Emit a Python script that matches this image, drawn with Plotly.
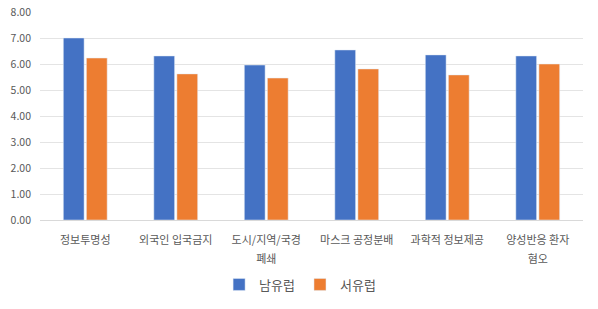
import plotly.graph_objects as go

categories = ["정보투명성", "외국인 입국금지", "도시/지역/국경\n폐쇄", "마스크 공정분배", "과학적 정보제공", "양성반응 환자\n혐오"]
south_eu = [7.00, 6.31, 5.96, 6.54, 6.35, 6.31]
west_eu = [6.23, 5.62, 5.46, 5.81, 5.58, 6.00]
y_ticks = [0, 1, 2, 3, 4, 5, 6, 7, 8]

line1 = [c.split("\n")[0] for c in categories]
line2 = [c.split("\n")[1] if "\n" in c else "" for c in categories]

font_family = "Noto Sans CJK KR, Noto Sans, sans-serif"

fig = go.Figure()
fig.add_trace(go.Bar(name="남유럽", x=categories, y=south_eu, marker_color="#4472C4"))
fig.add_trace(go.Bar(name="서유럽", x=categories, y=west_eu, marker_color="#ED7D31"))
# invisible helper trace so the second tick-label row axis is drawn
fig.add_trace(go.Scatter(x=categories, y=west_eu, xaxis="x2", yaxis="y", mode="markers",
                         marker=dict(opacity=0), showlegend=False, hoverinfo="skip"))

fig.update_layout(
    width=598, height=309,
    margin=dict(l=40, r=15, t=12, b=89, autoexpand=False),
    paper_bgcolor="white", plot_bgcolor="white",
    barmode="group", bargap=0.49, bargroupgap=0.1,
    font=dict(family=font_family, color="#595959", size=10),
    legend=dict(orientation="h", x=0.479, xanchor="center", y=-0.31, yanchor="middle",
                font=dict(size=13, color="#595959"), itemwidth=30),
    showlegend=True,
    xaxis=dict(type="category", categoryorder="array", categoryarray=categories,
               tickvals=categories, ticktext=line1,
               showline=True, linecolor="#d9d9d9", linewidth=1, ticks="",
               ticklabelstandoff=10, tickfont=dict(size=11, color="#595959"), tickangle=0),
    xaxis2=dict(type="category", categoryorder="array", categoryarray=categories,
                matches="x", overlaying="x", anchor="y", side="bottom",
                tickvals=categories, ticktext=line2,
                showline=False, showgrid=False, zeroline=False, ticks="",
                ticklabelstandoff=31, tickfont=dict(size=11, color="#595959"), tickangle=0),
)
fig.update_yaxes(range=[0, 8], tickvals=y_ticks, tickformat=".2f",
                 showgrid=True, gridcolor="#e4e4e4", gridwidth=1,
                 zeroline=False, showline=False, ticks="", ticklabelstandoff=8,
                 tickfont=dict(size=10.5, color="#595959"))

fig.write_html("out.html")
